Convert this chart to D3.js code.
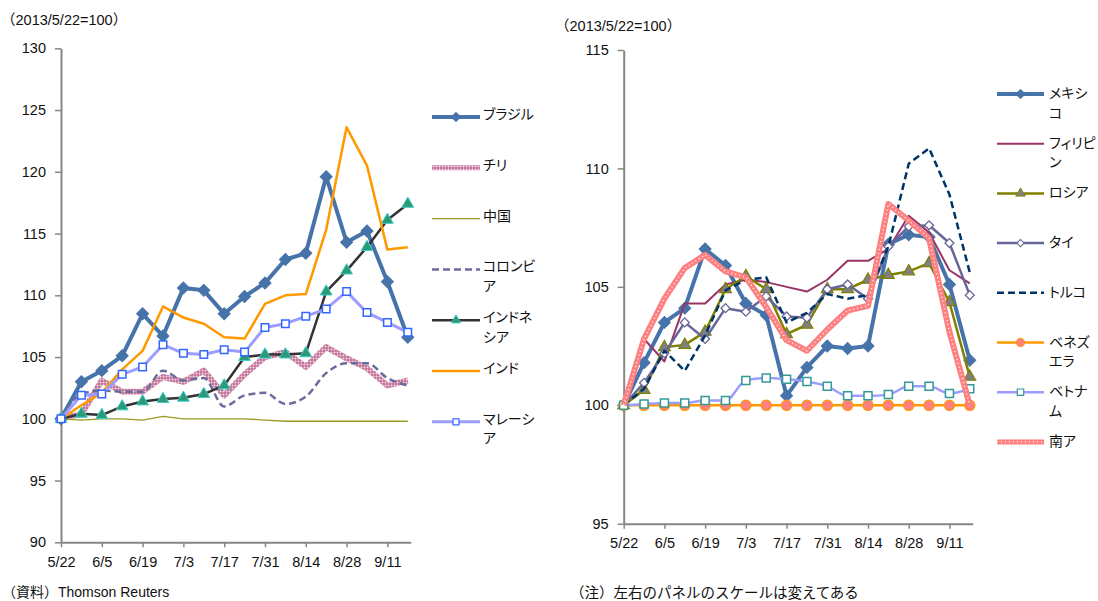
<!DOCTYPE html>
<html>
<head>
<meta charset="utf-8">
<script src="https://cdn.jsdelivr.net/npm/d3@7"></script>
<style>
body { margin: 0; background: #fff; }
text { font-family: "Liberation Sans", "Noto Sans CJK JP", sans-serif; fill: #111; }
.legend text { font-feature-settings: "palt"; }
</style>
</head>
<body>
<svg width="1098" height="601"></svg>
<script>
// weekly observation dates (2013)
const dates = ["5/22","5/29","6/5","6/12","6/19","6/26","7/3","7/10","7/17","7/24",
               "7/31","8/7","8/14","8/21","8/28","9/4","9/11","9/18"];
const tickLabels = ["5/22","6/5","6/19","7/3","7/17","7/31","8/14","8/28","9/11"];

// left panel values (2013/5/22 = 100)
const brazil    = [100,103.0,103.9,105.1,108.5,106.7,110.6,110.4,108.5,109.9,111.0,112.9,113.4,119.6,114.3,115.2,111.1,106.6];
const chile     = [100,100.4,103.1,102.2,102.2,103.4,103.0,103.9,101.9,103.6,105.0,105.4,104.2,105.8,104.9,104.1,102.7,103.1];
const china     = [100,99.9,100.0,100.0,99.9,100.2,100.0,100.0,100.0,100.0,99.9,99.8,99.8,99.8,99.8,99.8,99.8,99.8];
const colombia  = [100,102.0,102.3,102.2,102.2,103.9,103.1,103.3,101.0,101.9,102.1,101.2,101.8,103.7,104.5,104.5,103.3,102.7];
const indonesia = [100,100.4,100.3,101.0,101.4,101.6,101.7,102.0,102.7,105.0,105.2,105.2,105.3,110.3,112.0,113.9,116.1,117.4];
const india     = [100,101.1,102.1,104.0,105.5,109.1,108.2,107.7,106.6,106.5,109.3,110.0,110.1,115.3,123.6,120.5,113.7,113.9];
const malaysia  = [100,101.9,102.0,103.6,104.2,106.0,105.3,105.2,105.6,105.4,107.4,107.7,108.3,108.9,110.3,108.6,107.8,107.0];

// right panel values
const mexico      = [100,101.8,103.5,104.1,106.6,105.9,104.3,103.8,100.4,101.6,102.5,102.4,102.5,106.8,107.2,107.1,105.1,101.9];
const philippines = [100,102.8,101.85,104.3,104.3,105.1,105.3,105.2,105.0,104.8,105.3,106.1,106.1,106.6,108.0,107.3,105.7,105.15];
const russia      = [100,100.65,102.45,102.55,103.1,104.9,105.45,104.9,103.0,103.4,104.9,104.9,105.3,105.5,105.65,106.0,104.35,101.2];
const thai        = [100,100.95,102.2,103.5,102.8,104.1,103.95,104.6,103.75,103.7,104.9,105.1,104.5,106.7,107.55,107.6,106.85,104.65];
const turkey      = [100,100.7,102.3,101.45,102.95,104.85,105.3,105.4,103.5,103.9,104.7,104.5,104.65,106.7,110.2,110.85,108.9,105.6];
const venezuela   = [100,100,100,100,100,100,100,100,100,100,100,100,100,100,100,100,100,100];
const vietnam     = [100,100.05,100.1,100.1,100.2,100.2,101.05,101.15,101.1,101.0,100.8,100.4,100.4,100.45,100.8,100.8,100.5,100.7];
const southAfrica = [100,102.8,104.5,105.8,106.35,105.65,105.4,104.15,102.75,102.3,103.2,104.0,104.2,108.5,107.8,107.05,103.1,100.0];

const parseDate = d => d3.timeParse("%Y/%m/%d")("2013/" + d);
const days = dates.map(parseDate);

const svg = d3.select("svg");

// hatched fill for the Chile line
const defs = svg.append("defs");
const pat = defs.append("pattern").attr("id", "chk")
    .attr("width", 3).attr("height", 3).attr("patternUnits", "userSpaceOnUse");
pat.append("rect").attr("width", 3).attr("height", 3).attr("fill", "#c07096");
pat.append("circle").attr("cx", 1.5).attr("cy", 1.5).attr("r", 1).attr("fill", "#f6dde9");

const diamond = d3.symbol(d3.symbolSquare, 72)();
const smallDiamond = d3.symbol(d3.symbolSquare, 40)();

const leftSeries = [
    {name: "ブラジル", values: brazil, color: "#4673a9", width: 4,
     marker: {path: diamond, rotate: 45, fill: "#4673a9", stroke: "#4673a9"}},
    {name: "チリ", values: chile, color: "url(#chk)", width: 6},
    {name: "中国", values: china, color: "#9a9a22", width: 1.3},
    {name: "コロンビ\nア", values: colombia, color: "#6a6a9c", width: 2.5, dash: "7,4", curve: true},
    {name: "インドネ\nシア", values: indonesia, color: "#333", width: 2.5,
     marker: {path: d3.symbol(d3.symbolTriangle, 60)(), fill: "#2c9a74", stroke: "#3ccccc"}},
    {name: "インド", values: india, color: "#ff9900", width: 2.5},
    {name: "マレーシ\nア", values: malaysia, color: "#9d9dff", width: 3,
     marker: {path: d3.symbol(d3.symbolSquare, 56)(), fill: "#fff", stroke: "#3366ff", sw: 1.5}}
];

const rightSeries = [
    {name: "メキシ\nコ", values: mexico, color: "#4673a9", width: 4,
     marker: {path: diamond, rotate: 45, fill: "#4673a9", stroke: "#4673a9"}},
    {name: "フィリピ\nン", values: philippines, color: "#993366", width: 2},
    {name: "ロシア", values: russia, color: "#808000", width: 2.5,
     marker: {path: d3.symbol(d3.symbolTriangle, 60)(), fill: "#808080", stroke: "#808000", sw: 1.2}},
    {name: "タイ", values: thai, color: "#666699", width: 2.5,
     marker: {path: smallDiamond, rotate: 45, fill: "#fff", stroke: "#666699", sw: 1.3}},
    {name: "トルコ", values: turkey, color: "#003366", width: 2.5, dash: "7,4"},
    {name: "ベネズ\nエラ", values: venezuela, color: "#ff9900", width: 2.5,
     marker: {path: d3.symbol(d3.symbolCircle, 85)(), fill: "#ff8080", stroke: "#ff9900", sw: 1.2}},
    {name: "ベトナ\nム", values: vietnam, color: "#9d9dff", width: 2.5, curve: true,
     marker: {path: d3.symbol(d3.symbolSquare, 64)(), fill: "#fff", stroke: "#339999", sw: 1.5}},
    {name: "南ア", values: southAfrica, color: "#ff8080", width: 6, dots: true}
];

function drawPanel(cfg) {
    const x = d3.scaleTime()
        .domain([parseDate("5/22"), parseDate("9/19")])
        .range(cfg.xRange);
    const y = d3.scaleLinear().domain(cfg.yDomain).range(cfg.yRange);

    const g = svg.append("g");

    // axes
    const yAxis = g.append("g")
        .attr("transform", `translate(${cfg.xRange[0]},0)`)
        .call(d3.axisLeft(y).tickValues(cfg.yTicks).tickSize(6).tickSizeOuter(0).tickPadding(9));
    const xAxis = g.append("g")
        .attr("transform", `translate(0,${cfg.yRange[0]})`)
        .call(d3.axisBottom(x).tickValues(tickLabels.map(parseDate))
            .tickFormat((d, i) => tickLabels[i]).tickSize(5).tickSizeOuter(0).tickPadding(9));
    [yAxis, xAxis].forEach(a => {
        a.select(".domain").attr("stroke", "#868686").attr("stroke-width", 2);
        a.selectAll(".tick line").attr("stroke", "#868686").attr("stroke-width", 1.5);
        a.selectAll("text").style("font-size", "14.5px").attr("fill", "#111");
    });

    // y title
    g.append("text").attr("x", cfg.titleX).attr("y", cfg.titleY)
        .style("font-size", "14.5px").text("（2013/5/22=100）");

    // series
    cfg.series.forEach(s => {
        const line = d3.line()
            .x((d, i) => x(days[i]))
            .y(d => y(d))
            .curve(s.curve ? d3.curveMonotoneX : d3.curveLinear);
        g.append("path").datum(s.values)
            .attr("d", line)
            .attr("fill", "none")
            .attr("stroke", s.color)
            .attr("stroke-width", s.width)
            .attr("stroke-linejoin", "round")
            .attr("stroke-dasharray", s.dash || null);
        if (s.dots) {
            g.append("path").datum(s.values)
                .attr("d", line).attr("fill", "none")
                .attr("stroke", "#fff").attr("stroke-width", 1.4)
                .attr("stroke-dasharray", "1,3");
        }
        if (s.marker) {
            g.selectAll(null).data(s.values).join("path")
                .attr("d", s.marker.path)
                .attr("transform", (d, i) => `translate(${x(days[i])},${y(d)}) rotate(${s.marker.rotate || 0})`)
                .attr("fill", s.marker.fill)
                .attr("stroke", s.marker.stroke)
                .attr("stroke-width", s.marker.sw || 1);
        }
    });

    // legend
    const lg = svg.append("g").attr("class", "legend");
    cfg.series.forEach((s, i) => {
        const ly = cfg.legY + i * cfg.legStep;
        lg.append("line")
            .attr("x1", cfg.legX[0]).attr("x2", cfg.legX[1])
            .attr("y1", ly).attr("y2", ly)
            .attr("stroke", s.color).attr("stroke-width", Math.min(s.width, 5))
            .attr("stroke-dasharray", s.dash || null);
        if (s.dots) {
            lg.append("line")
                .attr("x1", cfg.legX[0]).attr("x2", cfg.legX[1])
                .attr("y1", ly).attr("y2", ly)
                .attr("stroke", "#fff").attr("stroke-width", 1.4)
                .attr("stroke-dasharray", "1,3");
        }
        if (s.marker) {
            lg.append("path")
                .attr("d", s.marker.path)
                .attr("transform", `translate(${(cfg.legX[0] + cfg.legX[1]) / 2},${ly}) rotate(${s.marker.rotate || 0}) scale(0.8)`)
                .attr("fill", s.marker.fill)
                .attr("stroke", s.marker.stroke)
                .attr("stroke-width", s.marker.sw || 1);
        }
        const t = lg.append("text")
            .attr("x", cfg.legTextX).attr("y", ly + cfg.legTextDy)
            .style("font-size", "14px");
        s.name.split("\n").forEach((part, k) => {
            t.append("tspan").attr("x", cfg.legTextX).attr("dy", k ? 19.5 : 0).text(part);
        });
    });
}

drawPanel({
    xRange: [61, 410.7], yDomain: [90, 130], yRange: [542.3, 48.3],
    yTicks: [90, 95, 100, 105, 110, 115, 120, 125, 130],
    titleX: 1, titleY: 25,
    series: leftSeries,
    legX: [432, 480], legTextX: 483, legY: 117, legStep: 50.8, legTextDy: 2
});

drawPanel({
    xRange: [623.7, 972.7], yDomain: [95, 115], yRange: [523.7, 50],
    yTicks: [95, 100, 105, 110, 115],
    titleX: 555, titleY: 31,
    series: rightSeries,
    legX: [997, 1044], legTextX: 1049, legY: 94, legStep: 49.7, legTextDy: 4
});

// source and note
svg.append("text").attr("x", 2).attr("y", 597).style("font-size", "14px")
    .text("（資料）Thomson Reuters");
svg.append("text").attr("x", 570).attr("y", 598).style("font-size", "14.5px")
    .text("（注）左右のパネルのスケールは変えてある");
</script>
</body>
</html>
